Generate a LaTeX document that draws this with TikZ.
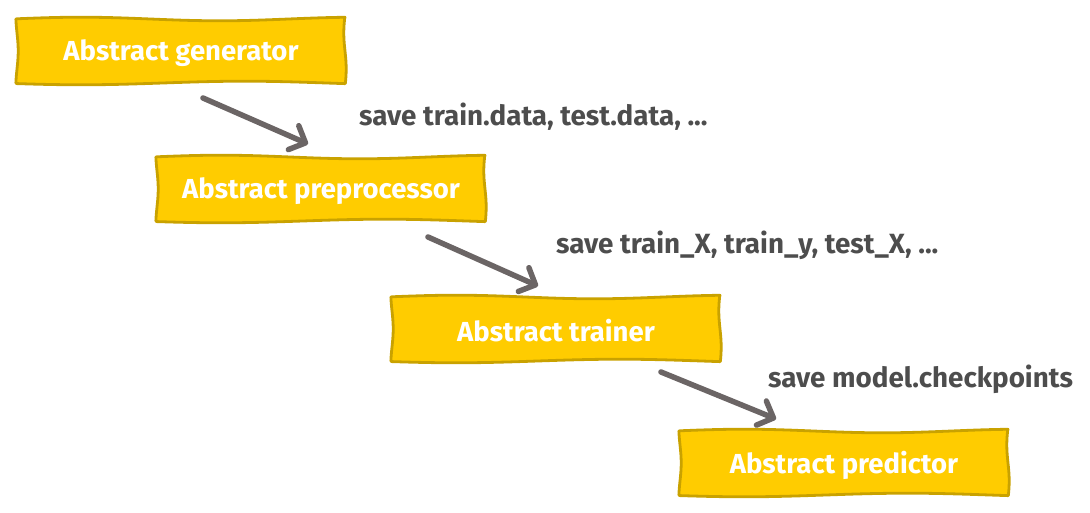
\documentclass[tikz,border=0pt]{standalone}
\usepackage{fontspec}
\setmainfont{Fira Sans}
\usetikzlibrary{arrows.meta}
\definecolor{boxfill}{HTML}{FFCC00}
\definecolor{boxline}{HTML}{C9A200}
\definecolor{arrowc}{HTML}{6B6565}
\definecolor{labelc}{HTML}{4D4D4D}
\tikzset{
  wbox/.style={minimum width=328pt, minimum height=64pt, inner sep=0pt,
    font=\fontsize{27.5}{30}\selectfont\bfseries, text=white},
  wborder/.style={draw=boxline, fill=boxfill, line width=2.8pt, line join=round},
  flow/.style={draw=arrowc, line width=5.5pt, line cap=round,
    -{Straight Barb[length=13pt, width=26pt, line width=5.5pt, round]}},
  lbl/.style={anchor=west, inner sep=0pt, text=labelc, font=\fontsize{27.8}{30}\selectfont\bfseries}
}
\newcommand{\wavybox}[2]{%
  \path[wborder]
    plot[domain=-164:164, samples=60, smooth] ({#1+\x}, {#2-32+1.8*sin(\x*1.3+40)})
    -- plot[domain=-32:32, samples=12, smooth] ({#1+164+1.2*sin(\x*5)}, {#2+\x})
    -- plot[domain=164:-164, samples=60, smooth] ({#1+\x}, {#2+32+1.8*sin(\x*1.1+200)})
    -- plot[domain=32:-32, samples=12, smooth] ({#1-164+1.2*sin(\x*5+90)}, {#2+\x})
    -- cycle;}
\begin{document}
\begin{tikzpicture}[x=1pt,y=-1pt]
\useasboundingbox (0,0) rectangle (1090,513);
% boxes
\wavybox{181}{51}
\wavybox{321}{189}
\wavybox{556}{329}
\wavybox{844}{463}
\node[wbox] (g) at (181,53) {Abstract generator};
\node[wbox] (p) at (321,191) {Abstract preprocessor};
\node[wbox] (t) at (556,331) {Abstract trainer};
\node[wbox] (r) at (844,465) {Abstract predictor};
% arrows
\coordinate (a1s) at (203,98);  \coordinate (a1e) at (308,144);
\coordinate (a2s) at (428,237); \coordinate (a2e) at (538,286);
\coordinate (a3s) at (661,372); \coordinate (a3e) at (776,419);
\draw[flow] (a1s) -- (a1e);
\draw[flow] (a2s) -- (a2e);
\draw[flow] (a3s) -- (a3e);
% labels
\node[lbl] (l1) at (359,117) {save train.data, test.data, ...};
\node[lbl] (l2) at (556,245) {save train\_X, train\_y, test\_X, ...};
\node[lbl] (l3) at (768,379) {save model.checkpoints};
\end{tikzpicture}
\end{document}
